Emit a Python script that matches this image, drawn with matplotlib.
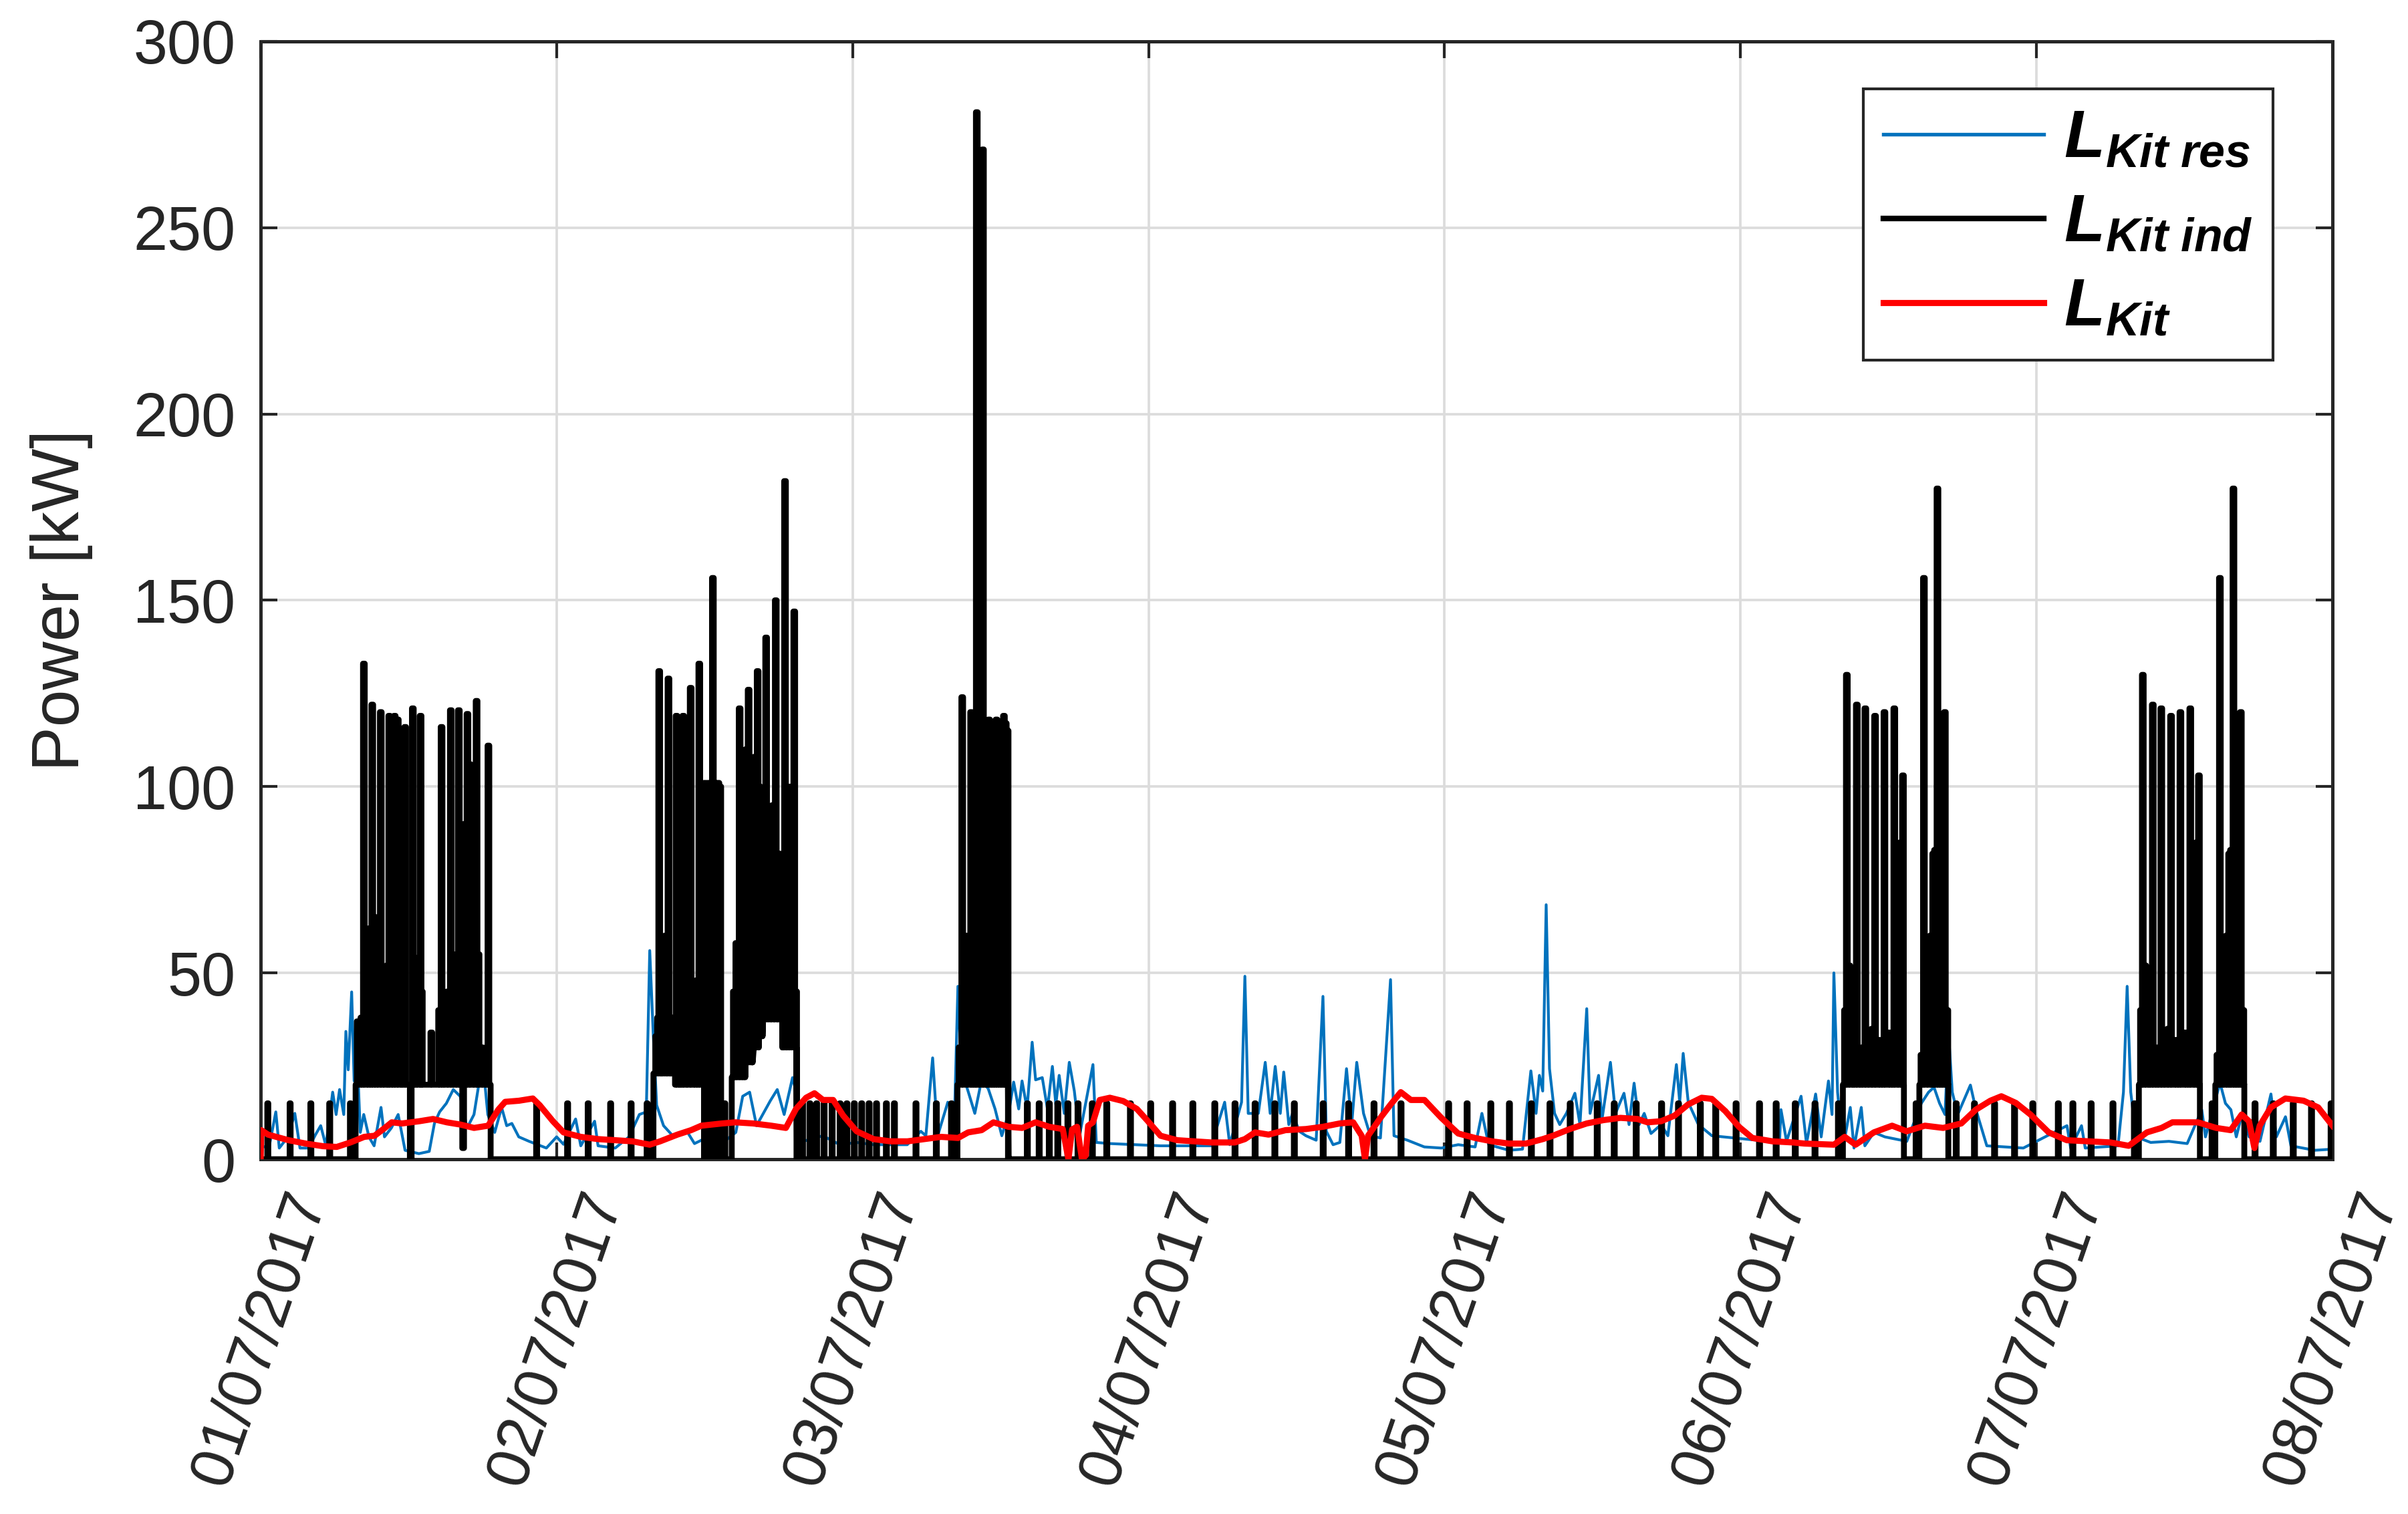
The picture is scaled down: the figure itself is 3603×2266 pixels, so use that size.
import matplotlib
matplotlib.use('Agg')
import matplotlib.pyplot as plt
from matplotlib.lines import Line2D

# ---- data (x in hours from 01/07/2017 00:00, y in kW) ----
day_ticks = [0, 24, 48, 72, 96, 120, 144, 168]
day_labels = ['01/07/2017', '02/07/2017', '03/07/2017', '04/07/2017',
              '05/07/2017', '06/07/2017', '07/07/2017', '08/07/2017']
y_ticks = [0, 50, 100, 150, 200, 250, 300]

# L Kit res (blue)
res_t = [0.0, 0.67, 1.23, 1.51, 2.21, 2.77, 3.19, 3.89, 4.45, 4.87, 5.29, 5.84, 6.12, 6.4, 6.74,
         6.91, 7.1, 7.38, 7.58, 7.74, 8.08, 8.36, 8.78, 9.2, 9.76, 10.04, 10.6, 11.15, 11.71,
         12.83, 13.67, 14.09, 14.51, 15.06, 15.62, 16.18, 16.74, 17.3, 18.0, 18.42, 18.98,
         19.54, 19.95, 20.37, 20.93, 21.77, 23.17, 24.0, 24.56, 25.54, 25.96, 27.08, 27.36,
         28.75, 29.87, 30.71, 31.27, 31.55, 31.83, 32.11, 32.67, 33.5, 34.62, 35.18, 36.3,
         37.14, 38.53, 39.09, 39.65, 40.21, 41.33, 41.89, 42.45, 43.13, 43.4, 43.67, 45.59,
         46.96, 48.33, 49.7, 52.43, 53.53, 53.94, 54.49, 54.9, 55.72, 56.27, 56.54, 56.81,
         57.36, 57.91, 58.46, 59.0, 59.55, 60.1, 60.65, 61.06, 61.47, 61.74, 62.15, 62.56,
         62.84, 63.38, 63.8, 64.2, 64.48, 64.75, 65.16, 65.57, 65.98, 66.4, 67.49, 67.76,
         68.86, 72.97, 77.07, 78.17, 78.58, 79.54, 79.81, 80.08, 80.9, 81.46, 81.86, 82.27,
         82.68, 82.96, 83.37, 83.67, 84.22, 84.76, 85.59, 86.14, 86.41, 86.96, 87.51, 88.05,
         88.47, 88.88, 89.43, 89.98, 90.8, 91.62, 91.9, 92.99, 94.36, 95.74, 97.11, 98.48,
         99.03, 99.58, 101.22, 102.32, 103.0, 103.42, 103.69, 103.96, 104.24, 104.51, 104.92,
         105.34, 105.88, 106.57, 106.98, 107.53, 107.8, 108.49, 108.76, 109.45, 109.86,
         110.55, 110.96, 111.37, 111.78, 112.19, 112.74, 113.56, 114.11, 114.8, 115.07,
         115.35, 115.76, 116.58, 117.68, 120.42, 123.16, 123.28, 123.73, 124.91, 125.35,
         126.09, 126.54, 127.13, 127.42, 127.57, 127.87, 128.31, 128.9, 129.2, 129.79,
         130.08, 130.82, 131.7, 133.48, 134.66, 135.25, 135.69, 136.14, 136.58, 136.87,
         137.17, 137.61, 138.64, 139.09, 139.97, 142.93, 146.47, 146.77, 147.65, 147.95,
         150.61, 151.05, 151.35, 151.64, 152.08, 153.26, 154.74, 156.22, 157.4, 157.7,
         158.88, 159.32, 159.76, 160.2, 160.65, 161.24, 162.12, 163.01, 163.45, 164.19,
         164.63, 166.55, 168.0]
res_kw = [3.6, 3.0, 12.7, 3.0, 6.0, 12.3, 3.0, 3.0, 6.6, 9.0, 3.6, 18.0, 12.0, 18.7, 12.0,
          34.3, 24.0, 44.9, 21.0, 35.0, 7.2, 12.0, 6.0, 3.6, 13.9, 6.0, 8.4, 12.0, 2.4,
          1.5, 2.1, 9.6, 12.7, 15.0, 18.7, 16.9, 8.4, 12.0, 26.5, 12.0, 7.2,
          13.9, 9.0, 9.6, 6.0, 4.8, 3.0, 6.0, 4.0, 10.8, 3.6, 10.2, 3.6,
          3.0, 6.0, 12.0, 12.7, 56.0, 34.0, 14.5, 9.0, 6.0, 7.2, 4.2, 6.0,
          3.6, 7.2, 16.9, 18.0, 9.0, 15.7, 18.7, 12.0, 21.9, 18.3, 4.5, 6.3,
          3.9, 4.5, 3.9, 3.9, 7.5, 6.3, 27.2, 6.3, 15.3, 12.3, 46.4, 24.0,
          18.3, 12.3, 21.3, 18.9, 13.5, 6.3, 12.3, 20.7, 13.5, 21.0, 13.5, 31.4,
          21.3, 21.9, 13.5, 24.9, 14.7, 22.5, 12.3, 26.0, 18.3, 6.3, 25.4, 4.5,
          4.2, 3.6, 3.6, 15.3, 3.9, 15.3, 49.1, 12.3, 12.3, 26.0, 12.3, 24.9,
          12.3, 23.4, 9.3, 12.3, 7.5, 6.3, 5.1, 43.7, 7.5, 3.9, 4.5, 24.3,
          9.3, 26.0, 12.3, 6.3, 5.7, 48.2, 6.3, 5.1, 3.3, 3.0, 3.9, 3.3,
          12.3, 3.9, 2.4, 2.7, 23.7, 12.3, 22.5, 18.3, 68.3, 24.3, 12.3,
          9.3, 12.3, 17.7, 9.3, 40.4, 12.3, 22.5, 10.5, 26.0, 12.3,
          17.7, 9.3, 20.4, 9.3, 12.3, 6.9, 9.3, 6.3, 25.4, 15.3,
          28.4, 15.3, 9.3, 6.3, 5.4, 4.5, 13.3, 4.8, 16.9, 4.2,
          17.5, 6.0, 21.0, 12.0, 50.0, 18.0, 3.0, 13.9, 3.0, 13.9,
          3.6, 7.2, 6.0, 4.8, 15.0, 18.0, 19.3, 15.0, 12.0, 33.7,
          18.0, 12.0, 19.9, 13.3, 3.6, 3.0, 9.0, 3.0, 9.0, 3.0,
          3.6, 18.0, 46.4, 18.0, 6.0, 4.5, 4.8, 4.2, 13.3, 6.0,
          20.5, 15.0, 13.3, 6.0, 12.0, 6.0, 4.8, 17.5, 6.0, 11.4,
          3.6, 2.4, 2.7]

# L Kit (red)
kit_t = [0.0, 0.05, 0.6, 2.27, 3.66, 5.05, 6.17, 7.28, 8.4, 9.24, 10.07, 10.63, 11.47, 12.87,
         13.98, 15.1, 16.2, 17.3, 18.45, 19.27, 19.83, 20.95, 22.07, 22.63, 23.7, 24.56, 25.96,
         27.36, 28.75, 30.15, 31.55, 32.39, 33.79, 34.9, 35.74, 37.42, 38.5, 39.94, 41.4, 42.59,
         43.41, 44.23, 44.91, 45.6, 46.42, 47.24, 48.33, 49.7, 51.07, 52.45, 53.82, 55.18,
         56.55, 57.37, 58.46, 59.42, 60.65, 61.75, 62.84, 63.95, 65.04, 65.5, 65.8, 66.2, 66.6,
         66.9, 67.1, 67.49, 68.04, 68.86, 69.95, 71.05, 71.87, 72.97, 74.34, 75.71, 77.07, 79.0,
         79.81, 80.63, 81.73, 83.1, 84.76, 86.13, 87.5, 88.59, 89.28, 89.55, 89.8, 90.8, 91.63,
         92.45, 93.27, 94.37, 95.74, 97.11, 98.48, 99.85, 101.22, 102.6, 103.97, 104.79, 106.16,
         107.53, 108.9, 110.27, 111.64, 112.46, 113.56, 114.65, 115.75, 116.85, 117.67, 118.77,
         119.87, 120.96, 122.6, 124.26, 125.2, 127.57, 128.45, 129.33, 130.81, 132.29, 133.47,
         134.95, 136.43, 137.9, 139.08, 140.26, 141.15, 142.33, 143.51, 144.99, 146.46, 148.24,
         150.0, 151.48, 152.95, 154.14, 155.02, 157.09, 158.57, 159.75, 160.64, 161.23, 161.67,
         162.1, 163.0, 164.18, 165.66, 166.84, 168.0]
kit_kw = [0.0, 7.8, 6.6, 5.1, 4.2, 3.5, 3.3, 4.5, 6.0, 6.3, 8.4, 9.9, 9.6, 10.2,
          10.8, 9.9, 9.3, 8.4, 9.0, 13.3, 15.4, 15.7, 16.3, 14.5, 10.2, 7.2, 6.0,
          5.4, 5.1, 4.8, 3.9, 4.8, 6.6, 7.8, 9.0, 9.6, 9.9, 9.6, 9.0, 8.4,
          13.5, 16.5, 17.7, 15.9, 15.9, 11.7, 7.5, 5.4, 4.8, 4.8, 5.4, 6.0,
          5.7, 7.2, 7.8, 9.9, 8.7, 8.4, 9.9, 8.7, 8.1, 0.0, 8.0, 8.7, 0.0,
          1.0, 9.0, 9.9, 15.9, 16.5, 15.6, 13.5, 10.5, 6.3, 5.1, 4.8, 4.5, 4.5,
          5.4, 7.2, 6.6, 7.8, 8.1, 8.7, 9.6, 9.9, 6.3, 0.0, 6.3, 11.1, 14.7,
          18.0, 15.9, 15.9, 11.1, 6.9, 5.7, 4.8, 4.2, 4.2, 5.4, 6.3, 8.1,
          9.6, 10.5, 11.1, 10.8, 9.9, 10.2, 11.7, 14.7, 16.5, 16.2, 12.9,
          8.7, 5.7, 4.8, 4.5, 4.2, 3.9, 6.0, 3.9, 7.2, 9.0, 7.5,
          9.0, 8.4, 9.6, 13.3, 15.7, 16.9, 15.1, 12.0, 7.2, 5.1, 4.8,
          4.5, 3.6, 7.2, 8.4, 9.9, 9.9, 8.4, 7.8, 12.0, 10.2, 3.0,
          9.0, 13.9, 16.3, 15.7, 13.9, 9.0]

# L Kit ind (black): periodic ~15 kW pulses
pulse_kw = 15.0
pulse_t = [0.54, 2.35, 4.03, 5.56, 7.24,
           22.34, 24.85, 26.52, 28.34, 30.0, 31.3, 37.6,
           43.9, 44.5, 45.05, 45.65, 46.3, 46.95, 47.5, 48.1, 48.7, 49.3, 49.9, 50.7, 51.35,
           53.1, 54.75, 55.98,
           62.13, 63.09, 63.91, 64.6, 65.42, 66.24, 67.4, 68.57, 70.49, 72.13, 73.91, 75.55,
           77.33, 78.97, 80.6, 82.2, 83.78, 86.12, 88.18, 90.24, 92.43, 96.29, 97.79, 99.71,
           101.22, 103.0, 104.51, 106.15, 108.34, 109.72, 111.5, 113.56, 114.93, 116.7,
           117.95, 119.6, 121.5, 122.85, 124.4, 126.0, 127.9, 134.2,
           137.45, 138.93, 140.56, 142.18, 143.66, 145.73, 146.91, 148.39, 150.16, 151.9,
           158.2, 161.68, 163.16, 164.78, 166.26, 167.85]

# production periods: base level of the black trace
plat_start = [7.7, 31.85, 33.6, 38.2, 39.3, 39.9, 40.4, 40.7, 42.3, 56.5,
              128.3, 134.5, 152.3, 158.5]
plat_end = [18.65, 33.6, 35.95, 39.3, 39.9, 40.4, 40.7, 42.3, 43.45, 60.6,
            133.25, 136.85, 157.25, 160.85]
plat_kw = [20, 23, 20, 22, 26, 30, 33, 37.5, 30, 20,
           20, 20, 20, 20]

# tall peaks
peak_t = [8.3, 8.98, 9.67, 10.36, 10.8, 11.05, 11.65, 12.27, 12.9, 13.77, 14.6, 15.35,
          16.0, 16.7, 17.44, 18.4,
          32.25, 33.0, 33.65, 34.2, 34.8, 35.5, 36.6, 38.77, 39.5, 40.23, 40.92, 41.7,
          42.45, 43.2,
          56.82, 57.54, 58.0, 58.5, 59.0, 59.6, 60.2,
          128.55, 129.36, 130.05, 130.84, 131.6, 132.4, 133.1, 134.8, 135.9, 136.5,
          152.55, 153.36, 154.05, 154.84, 155.6, 156.4, 157.1, 158.8, 159.9, 160.5]
peak_kw = [133, 122, 120, 119, 119, 118, 116, 121, 119, 34, 116, 120.5,
           120.5, 119.5, 123, 111,
           131, 129, 119, 119, 126.5, 133, 156, 121, 126, 131, 140, 150,
           182, 147,
           124, 120, 281, 271, 118, 118, 119,
           130, 122, 121, 119, 120, 121, 103, 156, 180, 120,
           130, 122, 121, 119, 120, 121, 103, 156, 180, 120]

# dense oscillation inside the production periods
fill_t = [7.8, 8.1, 8.6, 8.8, 9.2, 9.4, 9.9, 10.2, 10.6, 11.3, 11.45, 12.1, 12.45, 12.6,
          13.0, 14.4, 14.8, 15.1, 15.55, 15.8, 16.2, 16.35, 16.5, 16.9, 17.2, 17.6, 17.9, 18.2,
          32.0, 32.15, 32.6, 32.75, 33.3, 33.85, 34.0, 34.5, 35.1, 35.3, 35.8,
          35.95, 36.1, 36.25, 36.4, 36.75, 36.9, 37.05, 37.2,
          38.3, 38.5, 39.0, 39.15, 39.3, 39.65, 39.85, 40.0, 40.4, 40.6, 41.05, 41.2, 41.45,
          42.0, 42.2, 42.7, 42.9, 43.05, 43.35,
          56.6, 57.2, 57.7, 57.85, 58.2, 58.7, 58.85, 59.15, 59.3, 59.45, 59.75, 59.9, 60.05,
          60.35, 60.5,
          128.4, 128.75, 129.0, 129.15, 129.6, 129.8, 130.3, 130.6, 131.2, 131.4, 132.0,
          132.2, 132.7, 132.9, 134.6, 135.1, 135.35, 135.55, 135.7, 136.05, 136.2, 136.35,
          136.7,
          152.4, 152.75, 153.0, 153.15, 153.6, 153.8, 154.3, 154.6, 155.2, 155.4, 156.0,
          156.2, 156.7, 156.9, 158.6, 159.1, 159.35, 159.55, 159.7, 160.05, 160.2, 160.35,
          160.7]
fill_kw = [37, 38, 40, 62, 65, 45, 35, 52, 30, 28, 50, 0, 54, 50,
           45, 40, 42, 45, 55, 50, 60, 3, 90, 106, 80, 55, 30, 28,
           33, 38, 37, 60, 38, 36, 40, 32, 35, 48, 60,
           101, 100, 101, 100, 101, 100, 101, 100,
           45, 58, 62, 90, 110, 105, 95, 108, 100, 82, 85, 80, 95,
           82, 80, 75, 100, 65, 45,
           30, 60, 115, 110, 116, 117, 116, 117, 116, 117, 116, 117, 116,
           117, 115,
           40, 52, 45, 30, 28, 30, 25, 35, 32, 30, 34,
           30, 45, 85, 28, 33, 60, 82, 83, 85, 83, 80,
           40,
           40, 52, 45, 30, 28, 30, 25, 35, 32, 30, 34,
           30, 45, 85, 28, 33, 60, 82, 83, 85, 83, 80,
           40]


# base level of the black trace at time t
def base_at(t):
    for s, e, lv in zip(plat_start, plat_end, plat_kw):
        if s <= t < e:
            return lv
    return 0.0


# build the black trace: base level plus narrow pulses
items = [(s, None, 0) for s in plat_start] + [(e, None, 0) for e in plat_end]
items += [(t, pulse_kw, 0.08) for t in pulse_t]
items += [(t, k, 0.14) for t, k in zip(peak_t, peak_kw)]
items += [(t, k, 0.14) for t, k in zip(fill_t, fill_kw)]
items.sort(key=lambda it: it[0])

ind_t, ind_kw = [0.0], [base_at(0.0)]
for t, k, w in items:
    if k is None:
        ind_t += [t, t]
        ind_kw += [base_at(t - 1e-6), base_at(t + 1e-6)]
    else:
        ind_t += [t, t, t + w, t + w]
        ind_kw += [base_at(t), k, k, base_at(t + w)]
ind_t.append(168.0)
ind_kw.append(base_at(168.0))

# ---- figure ----
plt.rcParams['font.family'] = ['Liberation Sans', 'DejaVu Sans']
plt.rcParams['mathtext.fontset'] = 'custom'
plt.rcParams['mathtext.bf'] = 'Liberation Sans:italic:bold'
plt.rcParams['mathtext.rm'] = 'Liberation Sans'
plt.rcParams['mathtext.it'] = 'Liberation Sans:italic'

W, H = 3603, 2266
fig = plt.figure(figsize=(W / 300, H / 300), dpi=300)
ax = fig.add_axes([390 / W, 1 - 1735 / H, 3100 / W, 1673 / H])

c_blue = '#0072BD'
c_axis = '#262626'

ax.plot(res_t, res_kw, color=c_blue, lw=1.0, zorder=2)
ax.plot(ind_t, ind_kw, color='black', lw=2.1, zorder=3)
ax.plot(kit_t, kit_kw, color='#FF0000', lw=2.2, zorder=4)

ax.set_xlim(0, 168)
ax.set_ylim(0, 300)
ax.set_xticks(day_ticks)
ax.set_xticklabels(day_labels, rotation=71, ha='center', va='top', fontsize=22)
ax.set_yticks(y_ticks)
ax.tick_params(axis='y', labelsize=22, pad=9)
ax.tick_params(axis='x', pad=9)
ax.tick_params(direction='in', top=True, right=True, length=6, width=1.0,
               color=c_axis, labelcolor=c_axis)
ax.set_ylabel('Power [kW]', fontsize=24, color=c_axis)
ax.yaxis.set_label_coords(-0.081, 0.5)

ax.grid(True, color='#dcdcdc', lw=0.9)
ax.set_axisbelow(True)
for sp in ax.spines.values():
    sp.set_color(c_axis)
    sp.set_linewidth(1.2)

handles = [Line2D([], [], color=c_blue, lw=1.3),
           Line2D([], [], color='black', lw=2.0),
           Line2D([], [], color='#FF0000', lw=2.2)]
labels = [r'$\mathbf{L}_{\mathbf{Kit\ res}}$',
          r'$\mathbf{L}_{\mathbf{Kit\ ind}}$',
          r'$\mathbf{L}_{\mathbf{Kit}}$']
leg = ax.legend(handles, labels, loc='upper right', bbox_to_anchor=(3401 / W, 1 - 133 / H),
                bbox_transform=fig.transFigure, fontsize=24, handlelength=2.4,
                handletextpad=0.3, labelspacing=0.32, borderpad=0.3, borderaxespad=0,
                fancybox=False, framealpha=1, edgecolor=c_axis)
leg.get_frame().set_linewidth(1.0)

fig.savefig('out.png', dpi=300)
